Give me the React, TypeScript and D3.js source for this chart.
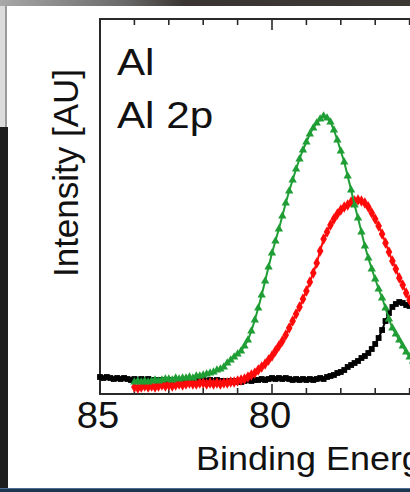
import React, { useEffect, useRef } from "react";
import * as d3 from "d3";

// XPS Al 2p spectra, one value per 0.1 eV channel (binding energy decreasing)
const STEP = 0.1;

const blackStart = 85.0;
const blackCounts = [
  17, 16, 17, 16, 15, 16, 15, 16, 15, 14,
  15, 14, 15, 14, 15, 14, 14, 13, 14, 13,
  14, 13, 14, 13, 13, 14, 13, 14, 13, 13,
  14, 13, 14, 13, 14, 13, 13, 12, 13, 12,
  13, 12, 13, 14, 13, 14, 14, 15, 14, 15,
  16, 15, 16, 15, 16, 15, 14, 15, 14, 15,
  14, 15, 14, 15, 16, 15, 17, 18, 19, 21,
  22, 24, 27, 29, 31, 33, 36, 38, 41, 45,
  50, 56, 64, 73, 81, 87, 90, 92, 91, 89,
  88, 86, 85
];

const redStart = 84.0;
const redCounts = [
  7, 6, 7, 8, 7, 8, 7, 8, 9, 8,
  9, 8, 9, 10, 9, 10, 11, 10, 10, 11,
  11, 10, 11, 10, 11, 10, 11, 11, 12, 12,
  13, 14, 15, 17, 19, 21, 24, 27, 30, 34,
  38, 43, 48, 53, 59, 66, 73, 80, 87, 95,
  103, 112, 121, 131, 143, 155, 162, 169, 175, 180,
  184, 187, 189, 192, 193, 194, 193, 191, 187, 181,
  175, 168, 160, 151, 142, 133, 125, 116, 109, 101,
  94, 87, 81
];

const greenStart = 84.0;
const greenCounts = [
  12, 13, 12, 13, 12, 13, 14, 13, 14, 15,
  15, 14, 16, 15, 16, 16, 17, 16, 18, 18,
  19, 20, 21, 22, 24, 25, 27, 31, 34, 37,
  40, 43, 48, 54, 63, 74, 86, 99, 113, 127,
  141, 153, 165, 178, 191, 203, 214, 225, 235, 244,
  252, 260, 266, 271, 275, 278, 276, 272, 264, 254,
  243, 232, 218, 204, 189, 176, 162, 148, 136, 125,
  115, 105, 96, 86, 75, 66, 60, 54, 48, 42,
  37, 33, 30
];

const majorTicks = [85, 80, 75];
const tickLabels = ["85", "80"]; // 75 lies outside the visible area
const minorTicks = [84, 83, 82, 81, 79, 78, 77, 76, 74];

const toPoints = (start, counts) =>
  counts.map((c, i) => ({ be: +(start - i * STEP).toFixed(1), v: c }));

function App() {
  const ref = useRef();

  useEffect(() => {
    const width = 410;
    const height = 492;
    const frame = { left: 100, top: 19, bottom: 394 };
    const font = "'Liberation Sans', Arial, sans-serif";

    const svg = d3.select(ref.current);
    svg.selectAll("*").remove();
    svg.attr("width", width).attr("height", height);

    // screenshot surroundings
    const defs = svg.append("defs");
    const grad = defs
      .append("linearGradient")
      .attr("id", "topband")
      .attr("x1", "0")
      .attr("x2", "1");
    grad.append("stop").attr("offset", "0").attr("stop-color", "#a8a8a8");
    grad.append("stop").attr("offset", "0.3").attr("stop-color", "#6a6a6a");
    grad.append("stop").attr("offset", "0.45").attr("stop-color", "#3a3532");
    grad.append("stop").attr("offset", "1").attr("stop-color", "#3c3834");

    svg.append("rect").attr("width", width).attr("height", height).attr("fill", "#ffffff");
    svg.append("rect").attr("width", width).attr("height", 6).attr("fill", "url(#topband)");
    svg.append("rect").attr("x", 0).attr("y", 6).attr("width", 5).attr("height", 121).attr("fill", "#dcdcdc");
    svg.append("rect").attr("x", 5).attr("y", 6).attr("width", 2).attr("height", 121).attr("fill", "#9a9a9a");
    svg.append("rect").attr("x", 0).attr("y", 127).attr("width", 8).attr("height", 362).attr("fill", "#1e1e1e");
    svg.append("rect").attr("x", 0).attr("y", 488).attr("width", width).attr("height", 4).attr("fill", "#1d3550");
    svg.append("rect").attr("x", 0).attr("y", 488).attr("width", width).attr("height", 1).attr("fill", "#4a6f92");

    const x = d3
      .scaleLinear()
      .domain([85, 74])
      .range([frame.left, frame.left + 11 * 34.4]);

    const y = d3
      .scaleLinear()
      .domain([0, 375])
      .range([frame.bottom, frame.top]);

    const axisColor = "#2a2a2a";

    // frame
    svg
      .append("path")
      .attr("d", `M${width + 20},${frame.top}H${frame.left}V${frame.bottom}H${width + 20}`)
      .attr("fill", "none")
      .attr("stroke", axisColor)
      .attr("stroke-width", 2);

    // ticks (inward, bottom and top)
    const tickG = svg.append("g").attr("stroke", axisColor).attr("stroke-width", 1.6);
    majorTicks.forEach(t => {
      tickG.append("line").attr("x1", x(t)).attr("x2", x(t)).attr("y1", frame.bottom).attr("y2", frame.bottom - 10);
      tickG.append("line").attr("x1", x(t)).attr("x2", x(t)).attr("y1", frame.top).attr("y2", frame.top + 11);
    });
    minorTicks.forEach(t => {
      tickG.append("line").attr("x1", x(t)).attr("x2", x(t)).attr("y1", frame.bottom).attr("y2", frame.bottom - 6);
      tickG.append("line").attr("x1", x(t)).attr("x2", x(t)).attr("y1", frame.top).attr("y2", frame.top + 6);
    });

    // tick labels (slightly wide, like the original figure)
    svg
      .selectAll(".tick-label")
      .data(tickLabels)
      .join("text")
      .attr("class", "tick-label")
      .attr("transform", (d, i) => `translate(${x(majorTicks[i]) - 2},428) scale(1.06,1)`)
      .attr("text-anchor", "middle")
      .attr("font-family", font)
      .attr("font-size", 36)
      .attr("fill", "#111")
      .text(d => d);

    // series
    const series = [
      { pts: toPoints(blackStart, blackCounts), color: "#000000", sym: d3.symbolSquare, size: 34 },
      { pts: toPoints(redStart, redCounts), color: "#ff0a0a", sym: d3.symbolDiamond, size: 38 },
      { pts: toPoints(greenStart, greenCounts), color: "#1e9e34", sym: d3.symbolTriangle, size: 30 }
    ];

    const line = d3
      .line()
      .x(d => x(d.be))
      .y(d => y(d.v));

    series.forEach(s => {
      const g = svg.append("g");
      g.append("path")
        .datum(s.pts)
        .attr("d", line)
        .attr("fill", "none")
        .attr("stroke", s.color)
        .attr("stroke-width", 2);
      g.selectAll("path.m")
        .data(s.pts)
        .join("path")
        .attr("class", "m")
        .attr("transform", d => `translate(${x(d.be)},${y(d.v)})`)
        .attr("d", d3.symbol().type(s.sym).size(s.size))
        .attr("fill", s.color);
    });

    // annotations
    svg.append("text")
      .attr("transform", "translate(117,75) scale(1.14,1)")
      .attr("font-family", font).attr("font-size", 37).attr("fill", "#111")
      .text("Al");
    svg.append("text")
      .attr("transform", "translate(117,128) scale(1.14,1)")
      .attr("font-family", font).attr("font-size", 37).attr("fill", "#111")
      .text("Al 2p");

    // axis titles
    svg.append("text")
      .attr("transform", "translate(196,470) scale(1.09,1)")
      .attr("font-family", font).attr("font-size", 33).attr("fill", "#111")
      .text("Binding Energy [eV]");
    svg.append("text")
      .attr("transform", "translate(78,173) rotate(-90)")
      .attr("text-anchor", "middle")
      .attr("font-family", font).attr("font-size", 35).attr("fill", "#111")
      .text("Intensity [AU]");
  }, []);

  return (
    <div style={{ position: "fixed", left: 0, top: 0 }}>
      <svg ref={ref} style={{ display: "block" }}></svg>
    </div>
  );
}

export default App;
